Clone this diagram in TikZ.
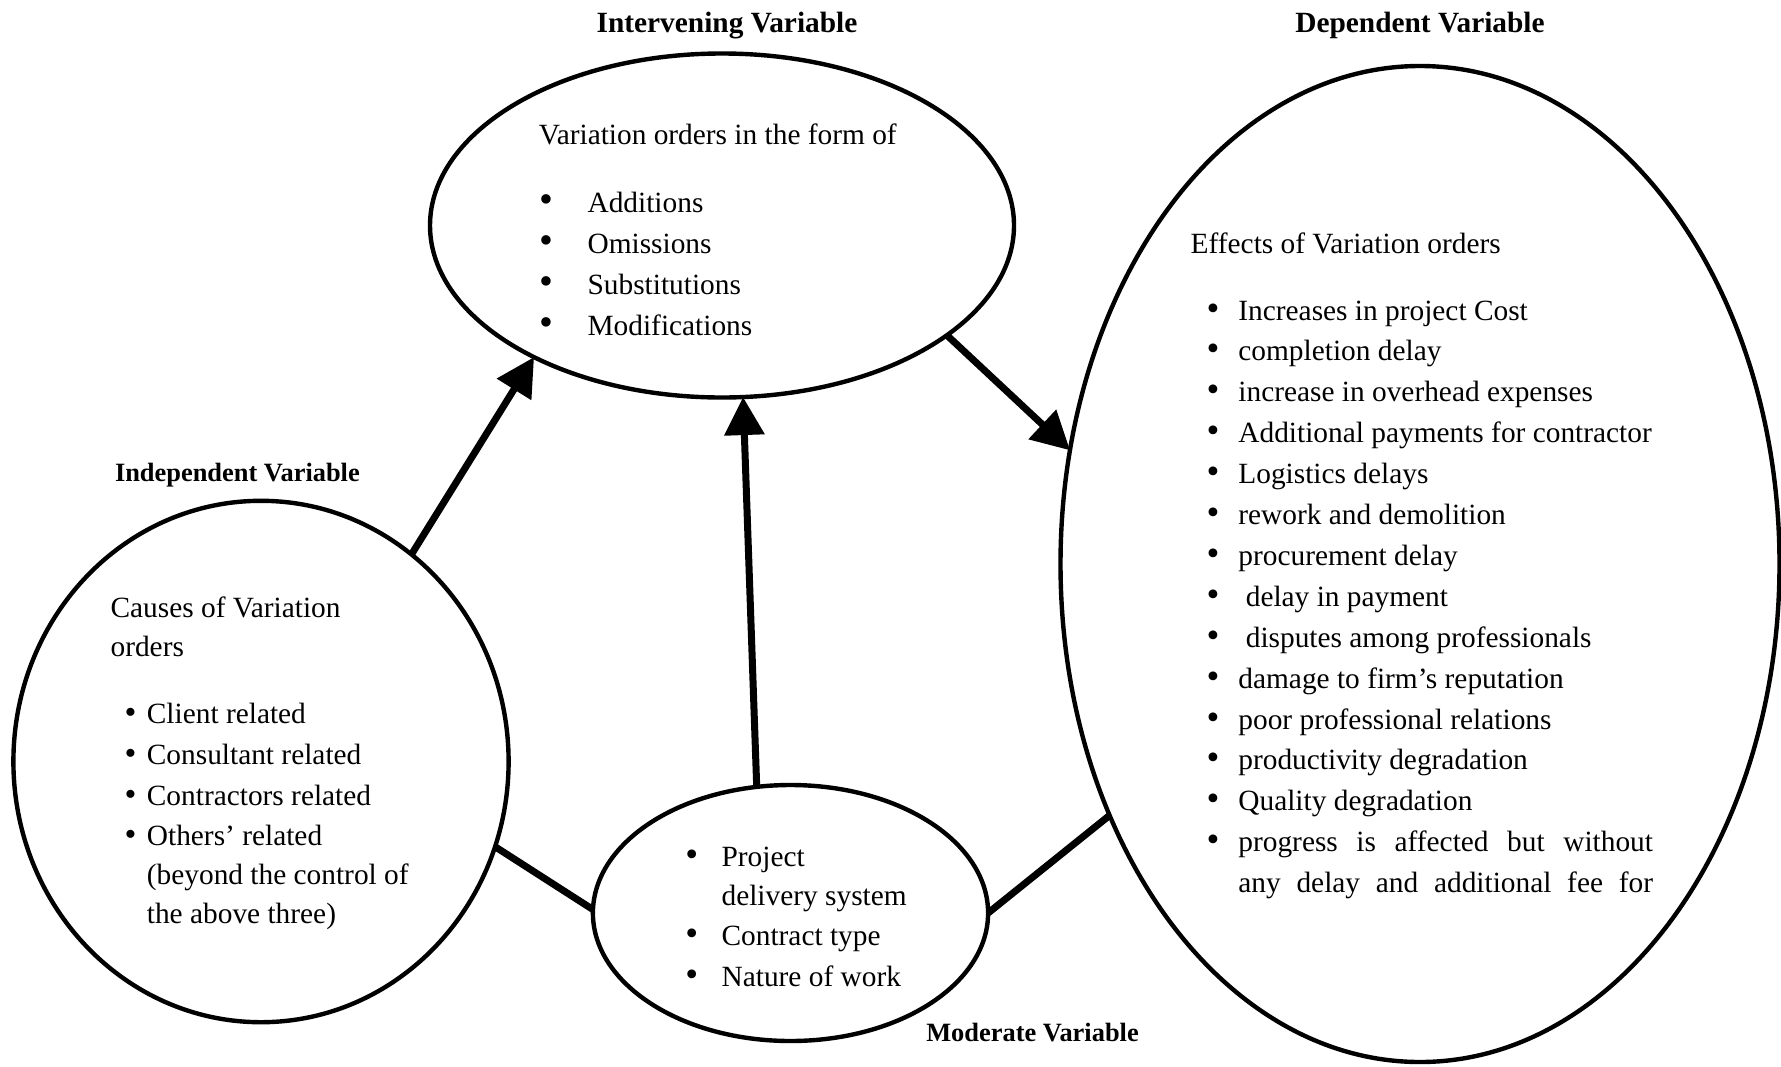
\documentclass[tikz,border=0pt]{standalone}
\usepackage{fontspec}
\setmainfont{Liberation Serif}
\usetikzlibrary{arrows.meta,shapes.geometric}
\begin{document}
\begin{tikzpicture}[x=0.5pt,y=-0.5pt,
  ell/.style={draw,line width=2.2pt,ellipse,inner sep=0pt,outer sep=0pt},
  txt/.style={inner sep=0pt,anchor=base west,font=\fontsize{14.68}{20.44}\selectfont},
  bul/.style={inner sep=0pt,anchor=base,font=\fontsize{14.68}{20.44}\selectfont},
  ttl/.style={inner sep=0pt,anchor=base,font=\fontsize{13.2}{16}\selectfont\bfseries},
  bigttl/.style={inner sep=0pt,anchor=base,font=\fontsize{14.68}{18}\selectfont\bfseries},
  conn/.style={line width=3.5pt},
  arr/.style={conn,-{Triangle[length=19pt,width=19.5pt]}}]
\useasboundingbox (0,0) rectangle (1781,1066);

% ellipses
\node[ell,minimum width=292pt,minimum height=172pt] (T) at (722,225.5) {};
\node[ell,minimum width=359.5pt,minimum height=498pt] (R) at (1420,564) {};
\node[ell,minimum width=247.6pt,minimum height=260.7pt] (L) at (261,761.5) {};
\node[ell,minimum width=197.6pt,minimum height=128pt] (B) at (790.5,913) {};

% titles
\node[bigttl] (tI) at (727,32) {Intervening Variable};
\node[bigttl] (tD) at (1420,32) {Dependent Variable};
\node[ttl] (tN) at (237.4,481) {Independent Variable};
\node[ttl] (tM) at (1032.5,1041) {Moderate Variable};

% top ellipse text
\node[txt] (t0) at (538.4,144) {Variation orders in the form of};
\foreach \y/\t [count=\i] in {212/Additions,253/Omissions,294/Substitutions,335/Modifications}{
  \node[bul,scale=1.35] (tb\i) at (546.3,\y) {\textbullet};
  \node[txt] (ti\i) at (587.2,\y) {\t};
}

% right ellipse text
\node[txt] (r0) at (1190.3,253) {Effects of Variation orders};
\foreach \t [count=\i from 0] in {Increases in project Cost,completion delay,increase in overhead expenses,Additional payments for contractor,Logistics delays,rework and demolition,procurement delay,\hspace*{3.7pt}delay in payment,\hspace*{3.7pt}disputes among professionals,damage to firm’s reputation,poor professional relations,productivity degradation,Quality degradation,\makebox[207.3pt][s]{progress is affected but without}}{
  \node[bul,scale=1.25] (rb\i) at (1213,320+40.9*\i) {\textbullet};
  \node[txt] (ri\i) at (1238,320+40.9*\i) {\t};
}
\node[txt] (ri14) at (1238,892.6) {\makebox[207.3pt][s]{any delay and additional fee for}};

% left ellipse text
\node[txt] (l0) at (110.2,617.7) {Causes of Variation};
\node[txt] (l1) at (110.2,656.3) {orders};
\foreach \y/\t [count=\i] in {723.3/Client related,764.2/Consultant related,805/Contractors related,845.9/Others’ related}{
  \node[bul,scale=1.15] (lb\i) at (130.6,\y) {\textbullet};
  \node[txt] (li\i) at (146.5,\y) {\t};
}
\node[txt] (l5) at (146.5,884.6) {(beyond the control of};
\node[txt] (l6) at (146.5,923.2) {the above three)};

% bottom ellipse text
\node[bul,scale=1.25] (bb1) at (691.7,866.4) {\textbullet};
\node[txt] (bi1) at (721.2,866.4) {Project};
\node[txt] (bi1b) at (721.2,905) {delivery system};
\node[bul,scale=1.25] (bb2) at (691.7,945.9) {\textbullet};
\node[txt] (bi2) at (721.2,945.9) {Contract type};
\node[bul,scale=1.25] (bb3) at (691.7,986.8) {\textbullet};
\node[txt] (bi3) at (721.2,986.8) {Nature of work};

% connectors
\draw[arr] (L.54.75) -- (T.215.07);
\draw[arr] (B.105.2) -- (T.277.6);
\draw[arr] (T.334.77) -- (R.162.11);
\draw[conn] (L.340.44) -- (B.179.4);
\draw[conn] (B.0.6) -- (R.219.47);
\end{tikzpicture}
\end{document}
